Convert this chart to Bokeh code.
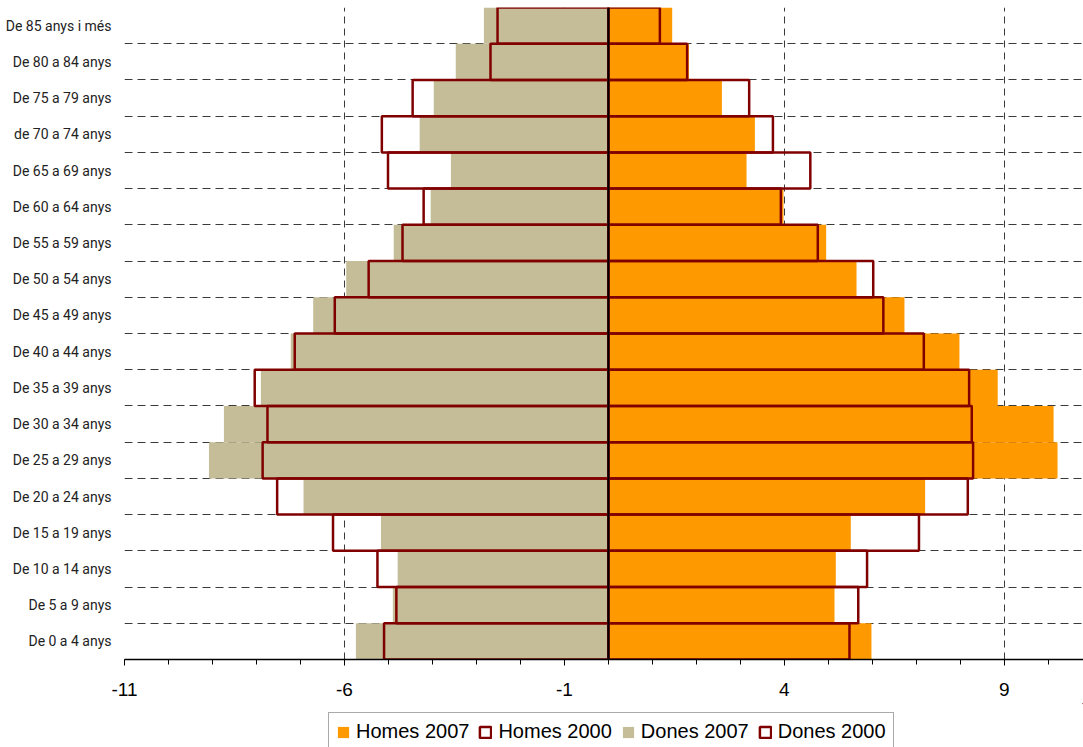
from bokeh.plotting import figure
from bokeh.layouts import column
from bokeh.models import Range1d, FixedTicker, Span, Legend, LegendItem, ColumnDataSource
from bokeh.embed import file_html
from bokeh.resources import INLINE

# Categories from bottom to top
categories = ["De 0 a 4 anys", "De 5 a 9 anys", "De 10 a 14 anys", "De 15 a 19 anys",
              "De 20 a 24 anys", "De 25 a 29 anys", "De 30 a 34 anys", "De 35 a 39 anys",
              "De 40 a 44 anys", "De 45 a 49 anys", "De 50 a 54 anys", "De 55 a 59 anys",
              "De 60 a 64 anys", "De 65 a 69 anys", "de 70 a 74 anys", "De 75 a 79 anys",
              "De 80 a 84 anys", "De 85 anys i més"]

homes_2007 = [5.98, 5.14, 5.17, 5.51, 7.20, 10.21, 10.12, 8.85, 7.98, 6.73,
              5.64, 4.95, 3.98, 3.14, 3.33, 2.58, 1.83, 1.45]
homes_2000 = [5.48, 5.68, 5.88, 7.06, 8.17, 8.29, 8.26, 8.20, 7.17, 6.25,
              6.02, 4.76, 3.92, 4.59, 3.74, 3.20, 1.79, 1.17]
dones_2007 = [5.74, 4.90, 4.79, 5.17, 6.93, 9.08, 8.74, 7.90, 7.22, 6.71,
              5.96, 4.88, 4.04, 3.58, 4.29, 3.97, 3.47, 2.83]
dones_2000 = [5.10, 4.82, 5.25, 6.26, 7.53, 7.86, 7.75, 8.04, 7.13, 6.22,
              5.45, 4.68, 4.20, 5.01, 5.15, 4.45, 2.68, 2.52]

series_labels = ["Homes 2007", "Homes 2000", "Dones 2007", "Dones 2000"]

x_major_ticks = [-11, -6, -1, 4, 9]
x_tick_labels = ["-11", "-6", "-1", "4", "9"]
x_minor_ticks = list(range(-11, 11))

ORANGE = "#FF9900"
TAN = "#C4BD97"
DARKRED = "#800000"

ypos = list(range(len(categories)))
src = ColumnDataSource(dict(
    y=ypos,
    h07=homes_2007,
    h00=homes_2000,
    d07=[-v for v in dones_2007],
    d00=[-v for v in dones_2000],
    zero=[0] * len(categories),
))

p = figure(width=1083, height=703, output_backend="svg", toolbar_location=None,
           x_range=Range1d(-11, 10.8), y_range=Range1d(-0.5, len(categories) - 0.5),
           min_border_left=124, min_border_right=0, min_border_top=7, min_border_bottom=44)
p.outline_line_color = None
p.background_fill_color = "white"

# Grid
p.xgrid.ticker = FixedTicker(ticks=x_major_ticks)
p.xgrid.grid_line_color = "#3a3a3a"
p.xgrid.grid_line_dash = "7 5"
p.xgrid.grid_line_width = 1
p.ygrid.ticker = FixedTicker(ticks=[i + 0.5 for i in range(len(categories) - 1)])
p.ygrid.grid_line_color = "#3a3a3a"
p.ygrid.grid_line_dash = "8 5"
p.ygrid.grid_line_width = 1

# Bars
p.hbar(y="y", left="d07", right="zero", height=1.0, source=src,
       fill_color=TAN, line_color=None)
p.hbar(y="y", left="zero", right="h07", height=1.0, source=src,
       fill_color=ORANGE, line_color=None)
p.hbar(y="y", left="d00", right="zero", height=1.0, source=src,
       fill_color=None, line_color=DARKRED, line_width=2.5)
p.hbar(y="y", left="zero", right="h00", height=1.0, source=src,
       fill_color=None, line_color=DARKRED, line_width=2.5)

p.add_layout(Span(location=0, dimension="height", line_color="black", line_width=2))

# X axis
xa = p.xaxis[0]
xa.ticker = FixedTicker(ticks=x_major_ticks, minor_ticks=x_minor_ticks)
xa.major_label_overrides = {t: l for t, l in zip(x_major_ticks, x_tick_labels)}
xa.axis_line_color = "black"
xa.axis_line_width = 1.5
xa.major_tick_out = 6
xa.major_tick_in = 0
xa.minor_tick_out = 5
xa.minor_tick_in = 0
xa.major_tick_line_color = "black"
xa.minor_tick_line_color = "black"
xa.major_label_text_font = "Liberation Sans"
xa.major_label_text_font_size = "19px"
xa.major_label_text_color = "black"
xa.major_label_standoff = 17

# Y axis
ya = p.yaxis[0]
ya.ticker = FixedTicker(ticks=ypos)
ya.major_label_overrides = {i: c for i, c in enumerate(categories)}
ya.axis_line_color = None
ya.major_tick_line_color = None
ya.minor_tick_line_color = None
ya.major_label_text_font = "Roboto"
ya.major_label_text_font_size = "14px"
ya.major_label_text_color = "#222222"
ya.major_label_standoff = 7

# Legend in its own strip below the chart
lg = figure(width=1083, height=44, output_backend="svg", toolbar_location=None,
            x_range=Range1d(0, 1), y_range=Range1d(0, 1),
            x_axis_type=None, y_axis_type=None,
            min_border_left=0, min_border_right=0, min_border_top=0, min_border_bottom=0)
lg.outline_line_color = None
lg.xgrid.visible = False
lg.ygrid.visible = False
dummy = ColumnDataSource(dict(y=[5], l=[5], r=[6]))
l_h07 = lg.hbar(y="y", left="l", right="r", height=1, source=dummy, fill_color=ORANGE, line_color=None)
l_h00 = lg.hbar(y="y", left="l", right="r", height=1, source=dummy, fill_color="white",
                line_color=DARKRED, line_width=2.5)
l_d07 = lg.hbar(y="y", left="l", right="r", height=1, source=dummy, fill_color=TAN, line_color=None)
l_d00 = lg.hbar(y="y", left="l", right="r", height=1, source=dummy, fill_color="white",
                line_color=DARKRED, line_width=2.5)

legend = Legend(items=[
    LegendItem(label=series_labels[0], renderers=[l_h07]),
    LegendItem(label=series_labels[1], renderers=[l_h00]),
    LegendItem(label=series_labels[2], renderers=[l_d07]),
    LegendItem(label=series_labels[3], renderers=[l_d00]),
], orientation="horizontal")
legend.label_text_font = "Liberation Sans"
legend.label_text_font_size = "20px"
legend.label_text_color = "black"
legend.glyph_width = 14
legend.glyph_height = 14
legend.label_standoff = 6
legend.spacing = 9
legend.padding = 7
legend.margin = 0
legend.label_height = 20
legend.border_line_color = "#555555"
legend.border_line_width = 1
legend.location = (204, -4)
lg.add_layout(legend, "center")

layout = column(p, lg, spacing=0)
open("out.html", "w").write(file_html(layout, INLINE))
